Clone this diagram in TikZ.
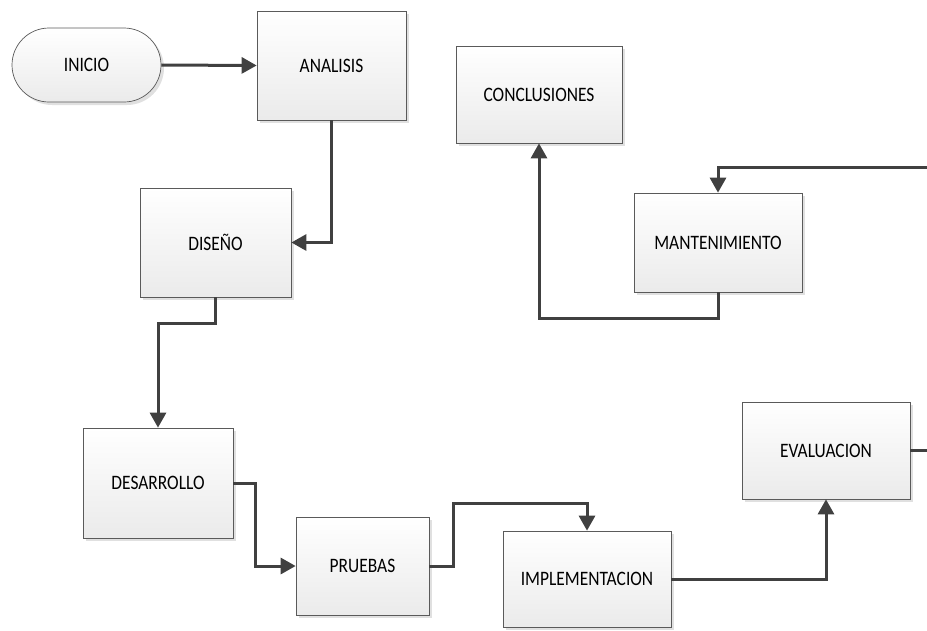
\documentclass[tikz,border=0pt]{standalone}
\usepackage{fontspec}
\setmainfont{Carlito}[FakeStretch=0.85]
\usetikzlibrary{arrows.meta,shadows}

\definecolor{edge}{HTML}{5A5A5A}
\definecolor{wire}{HTML}{404040}

\tikzset{
  stepbox/.style={
    draw=edge, line width=0.7pt,
    top color=white, bottom color=black!8,
    drop shadow={shadow xshift=3pt, shadow yshift=-3pt, fill=black!12, opacity=1},
    font=\fontsize{20.5}{22}\selectfont, text=black,
    inner sep=0pt
  },
  terminal/.style={stepbox, rounded corners=37pt},
  flow/.style={draw=wire, line width=3pt,
    -{Triangle[length=15pt,width=16pt]}},
  plain/.style={draw=wire, line width=3pt}
}

\begin{document}
\begin{tikzpicture}[x=1pt, y=-1pt]
  \useasboundingbox (0,0) rectangle (927,630);

  % process steps
  \node[terminal, minimum width=149pt, minimum height=74pt]  (inicio)         at (86.5,65)   {INICIO};
  \node[stepbox,  minimum width=149pt, minimum height=109pt] (analisis)       at (331.5,65.5) {ANALISIS};
  \node[stepbox,  minimum width=151pt, minimum height=109pt] (diseno)         at (215.5,242.5) {DISEÑO};
  \node[stepbox,  minimum width=150pt, minimum height=110pt] (desarrollo)     at (158,483)   {DESARROLLO};
  \node[stepbox,  minimum width=133pt, minimum height=98pt]  (pruebas)        at (362.5,566) {PRUEBAS};
  \node[stepbox,  minimum width=168pt, minimum height=96pt]  (implementacion) at (587,579)   {IMPLEMENTACION};
  \node[stepbox,  minimum width=168pt, minimum height=97pt]  (evaluacion)     at (826,450.5) {EVALUACION};
  \node[stepbox,  minimum width=168pt, minimum height=99pt]  (mantenimiento)  at (718,242.5) {MANTENIMIENTO};
  \node[stepbox,  minimum width=166pt, minimum height=97pt]  (conclusiones)   at (539,94.5)  {CONCLUSIONES};

  % bend points and free ends of the connectors
  \coordinate (k1) at (0,323);
  \coordinate (k2) at (255,0);
  \coordinate (k3) at (453,503);
  \coordinate (k4) at (0,318);
  \coordinate (out1) at (927,450.5);
  \coordinate (in1) at (927,167);

  % connectors
  \draw[flow] (inicio.east) -- (analisis.west);
  \draw[flow] (analisis.south) |- (diseno.east);
  \draw[flow] (diseno.south) -- (diseno.south |- k1) -| (desarrollo.north);
  \draw[flow] (desarrollo.east) -- (desarrollo.east -| k2) |- (pruebas.west);
  \draw[flow] (pruebas.east) -| (k3) -| (implementacion.north);
  \draw[flow] (implementacion.east) -| (evaluacion.south);
  \draw[plain] (evaluacion.east) -- (out1);
  \draw[flow] (in1) -| (mantenimiento.north);
  \draw[flow] (mantenimiento.south) -- (mantenimiento.south |- k4) -| (conclusiones.south);
\end{tikzpicture}
\end{document}
